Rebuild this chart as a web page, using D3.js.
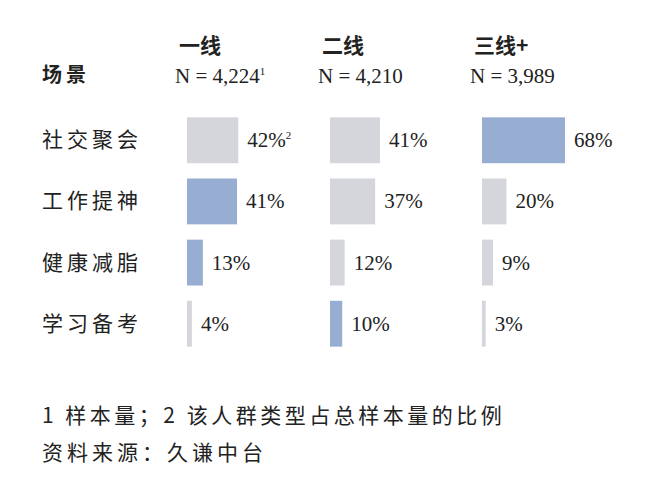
<!DOCTYPE html><html><head><meta charset="utf-8"><script src="https://cdn.jsdelivr.net/npm/d3@7"></script>
<style>body{margin:0;background:#fff}</style></head><body><svg id="c" width="651" height="500"></svg><script>
const scenes=["社交聚会","工作提神","健康减脂","学习备考"];
const tiers=["一线","二线","三线+"];
const samples=["N = 4,224","N = 4,210","N = 3,989"];
const tier1=[42,41,13,4];
const tier2=[41,37,12,10];
const tier3=[68,20,9,3];
const series=[tier1,tier2,tier3];
const svg=d3.select("#c");
const serif="'Liberation Serif','DejaVu Serif',serif", cjk="'Noto Sans CJK SC',sans-serif";
const colX=d3.scaleOrdinal().domain(tiers).range([187,330,482]);
const y=d3.scaleBand().domain(scenes).range([110,354]).paddingInner(0.25).paddingOuter(0.12);
const w=d3.scaleLinear().domain([0,68]).range([0,83]);
svg.append("text").attr("x",42).attr("y",82).attr("font-family",cjk).attr("font-weight","bold").attr("font-size",20).attr("letter-spacing",4).attr("fill","#222").text("场景");
tiers.forEach((t,i)=>{
  svg.append("text").attr("x",colX(t)-8).attr("y",53).attr("font-family",cjk).attr("font-weight","bold").attr("font-size",21).attr("fill","#222").text(t);
  const tx=svg.append("text").attr("x",colX(t)-12).attr("y",83).attr("font-family",serif).attr("font-size",21).attr("fill","#222").text(samples[i]);
  if(i==0) tx.append("tspan").attr("font-size",11).attr("dy",-8).text("1");
});
scenes.forEach((s,r)=>{
  svg.append("text").attr("x",42).attr("y",y(s)+y.bandwidth()/2+7).attr("font-family",cjk).attr("font-size",21).attr("fill","#222").attr("letter-spacing",4).text(s);
  const mx=d3.max(series,d=>d[r]);
  series.forEach((d,i)=>{
    const x0=colX(tiers[i]);
    svg.append("rect").attr("x",x0).attr("y",y(s)).attr("width",Math.max(3,w(d[r]))).attr("height",y.bandwidth())
      .attr("fill",d[r]===mx?"#97aed2":"#d4d6db");
    const t=svg.append("text").attr("x",x0+Math.max(3,w(d[r]))+9).attr("y",y(s)+y.bandwidth()/2+7).attr("font-family",serif).attr("font-size",21).attr("fill","#222").text(d[r]+"%");
    if(i==0&&r==0) t.append("tspan").attr("font-size",11).attr("dy",-8).text("2");
  });
});
svg.append("text").attr("x",42).attr("y",423).attr("font-family",cjk).attr("font-size",21).attr("letter-spacing",3.5).attr("fill","#222").text("1 样本量；2 该人群类型占总样本量的比例");
svg.append("text").attr("x",42).attr("y",460).attr("font-family",cjk).attr("font-size",21).attr("letter-spacing",4).attr("fill","#222").text("资料来源：久谦中台");
</script></body></html>
